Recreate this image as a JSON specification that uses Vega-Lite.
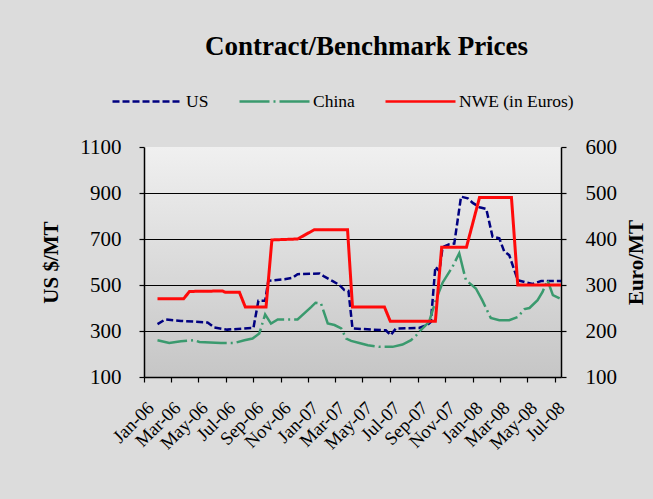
{
  "$schema": "https://vega.github.io/schema/vega-lite/v6.json",
  "width": 417,
  "height": 230,
  "autosize": {"type": "none"},
  "padding": {"left": 144, "top": 147, "right": 92, "bottom": 122},
  "background": "#DCDCDC",
  "config": {
    "view": {"stroke": null, "fill": {"gradient": "linear", "x1": 0, "y1": 0, "x2": 0, "y2": 1, "stops": [{"offset": 0, "color": "#F0F0F0"}, {"offset": 1, "color": "#C6C6C6"}]}},
    "font": "Liberation Serif",
    "axis": {"labelFont": "Liberation Serif", "titleFont": "Liberation Serif", "labelColor": "#000000", "titleColor": "#000000", "domainColor": "#000000", "tickColor": "#000000", "domainWidth": 1.5, "tickWidth": 1.2},
    "legend": {
      "orient": "none", "legendX": -33, "legendY": -82, "direction": "horizontal",
      "symbolType": "stroke", "symbolSize": 4900, "symbolStrokeWidth": 2.5,
      "labelFont": "Liberation Serif", "labelFontSize": 17.5, "labelColor": "#000000",
      "columnPadding": 25, "labelOffset": 2, "padding": 0
    }
  },
  "title": {"text": "Contract/Benchmark Prices", "font": "Liberation Serif", "fontSize": 27, "fontWeight": "bold", "color": "#000000", "anchor": "middle", "dx": 14},
  "datasets": {
    "usd": [
      {"d": "2006-01-31", "s": "US", "v": 330},
      {"d": "2006-02-17", "s": "US", "v": 350},
      {"d": "2006-03-24", "s": "US", "v": 344},
      {"d": "2006-05-22", "s": "US", "v": 337},
      {"d": "2006-06-06", "s": "US", "v": 315},
      {"d": "2006-07-05", "s": "US", "v": 306},
      {"d": "2006-08-27", "s": "US", "v": 313},
      {"d": "2006-09-01", "s": "US", "v": 313},
      {"d": "2006-09-12", "s": "US", "v": 431},
      {"d": "2006-09-27", "s": "US", "v": 431},
      {"d": "2006-10-04", "s": "US", "v": 518},
      {"d": "2006-11-09", "s": "US", "v": 525},
      {"d": "2006-11-27", "s": "US", "v": 531},
      {"d": "2006-12-08", "s": "US", "v": 547},
      {"d": "2007-01-26", "s": "US", "v": 550},
      {"d": "2007-02-06", "s": "US", "v": 536},
      {"d": "2007-02-24", "s": "US", "v": 517},
      {"d": "2007-03-11", "s": "US", "v": 500},
      {"d": "2007-03-22", "s": "US", "v": 478},
      {"d": "2007-03-31", "s": "US", "v": 475},
      {"d": "2007-04-09", "s": "US", "v": 311},
      {"d": "2007-06-22", "s": "US", "v": 303},
      {"d": "2007-07-03", "s": "US", "v": 282},
      {"d": "2007-07-14", "s": "US", "v": 311},
      {"d": "2007-09-04", "s": "US", "v": 313},
      {"d": "2007-09-23", "s": "US", "v": 328},
      {"d": "2007-09-30", "s": "US", "v": 340},
      {"d": "2007-10-10", "s": "US", "v": 579},
      {"d": "2007-10-19", "s": "US", "v": 560},
      {"d": "2007-10-26", "s": "US", "v": 664},
      {"d": "2007-11-10", "s": "US", "v": 677},
      {"d": "2007-11-21", "s": "US", "v": 680},
      {"d": "2007-12-06", "s": "US", "v": 884},
      {"d": "2007-12-21", "s": "US", "v": 877},
      {"d": "2008-01-01", "s": "US", "v": 857},
      {"d": "2008-01-16", "s": "US", "v": 838},
      {"d": "2008-01-31", "s": "US", "v": 831},
      {"d": "2008-02-14", "s": "US", "v": 710},
      {"d": "2008-02-29", "s": "US", "v": 703},
      {"d": "2008-03-11", "s": "US", "v": 645},
      {"d": "2008-03-22", "s": "US", "v": 630},
      {"d": "2008-04-10", "s": "US", "v": 521},
      {"d": "2008-04-28", "s": "US", "v": 511},
      {"d": "2008-05-13", "s": "US", "v": 505},
      {"d": "2008-06-01", "s": "US", "v": 517},
      {"d": "2008-07-15", "s": "US", "v": 517},
      {"d": "2006-01-31", "s": "China", "v": 260},
      {"d": "2006-02-26", "s": "China", "v": 248},
      {"d": "2006-03-24", "s": "China", "v": 255},
      {"d": "2006-04-22", "s": "China", "v": 260},
      {"d": "2006-05-04", "s": "China", "v": 252},
      {"d": "2006-06-21", "s": "China", "v": 248},
      {"d": "2006-07-21", "s": "China", "v": 248},
      {"d": "2006-08-12", "s": "China", "v": 260},
      {"d": "2006-08-30", "s": "China", "v": 267},
      {"d": "2006-09-14", "s": "China", "v": 289},
      {"d": "2006-09-27", "s": "China", "v": 372},
      {"d": "2006-10-10", "s": "China", "v": 332},
      {"d": "2006-10-25", "s": "China", "v": 350},
      {"d": "2006-12-08", "s": "China", "v": 350},
      {"d": "2007-01-07", "s": "China", "v": 404},
      {"d": "2007-01-17", "s": "China", "v": 423},
      {"d": "2007-01-29", "s": "China", "v": 420},
      {"d": "2007-02-13", "s": "China", "v": 333},
      {"d": "2007-02-28", "s": "China", "v": 326},
      {"d": "2007-03-15", "s": "China", "v": 311},
      {"d": "2007-03-26", "s": "China", "v": 267},
      {"d": "2007-04-06", "s": "China", "v": 257},
      {"d": "2007-04-24", "s": "China", "v": 248},
      {"d": "2007-05-13", "s": "China", "v": 238},
      {"d": "2007-06-08", "s": "China", "v": 231},
      {"d": "2007-07-07", "s": "China", "v": 231},
      {"d": "2007-07-29", "s": "China", "v": 241},
      {"d": "2007-08-17", "s": "China", "v": 260},
      {"d": "2007-08-28", "s": "China", "v": 280},
      {"d": "2007-09-06", "s": "China", "v": 300},
      {"d": "2007-09-26", "s": "China", "v": 340},
      {"d": "2007-10-11", "s": "China", "v": 434},
      {"d": "2007-10-26", "s": "China", "v": 510},
      {"d": "2007-11-17", "s": "China", "v": 579},
      {"d": "2007-12-02", "s": "China", "v": 638},
      {"d": "2007-12-12", "s": "China", "v": 558},
      {"d": "2007-12-17", "s": "China", "v": 521},
      {"d": "2008-01-08", "s": "China", "v": 485},
      {"d": "2008-01-22", "s": "China", "v": 434},
      {"d": "2008-02-10", "s": "China", "v": 357},
      {"d": "2008-02-29", "s": "China", "v": 347},
      {"d": "2008-03-22", "s": "China", "v": 347},
      {"d": "2008-04-10", "s": "China", "v": 361},
      {"d": "2008-04-25", "s": "China", "v": 395},
      {"d": "2008-05-06", "s": "China", "v": 400},
      {"d": "2008-05-24", "s": "China", "v": 434},
      {"d": "2008-06-04", "s": "China", "v": 470},
      {"d": "2008-06-15", "s": "China", "v": 521},
      {"d": "2008-06-27", "s": "China", "v": 456},
      {"d": "2008-07-12", "s": "China", "v": 442}
    ],
    "eur": [
      {"d": "2006-01-31", "s": "NWE (in Euros)", "v": 270},
      {"d": "2006-03-30", "s": "NWE (in Euros)", "v": 270},
      {"d": "2006-04-12", "s": "NWE (in Euros)", "v": 286},
      {"d": "2006-06-24", "s": "NWE (in Euros)", "v": 287},
      {"d": "2006-07-01", "s": "NWE (in Euros)", "v": 284},
      {"d": "2006-08-01", "s": "NWE (in Euros)", "v": 284},
      {"d": "2006-08-14", "s": "NWE (in Euros)", "v": 252},
      {"d": "2006-09-29", "s": "NWE (in Euros)", "v": 252},
      {"d": "2006-10-12", "s": "NWE (in Euros)", "v": 398},
      {"d": "2006-12-08", "s": "NWE (in Euros)", "v": 400},
      {"d": "2007-01-14", "s": "NWE (in Euros)", "v": 420},
      {"d": "2007-03-29", "s": "NWE (in Euros)", "v": 420},
      {"d": "2007-04-09", "s": "NWE (in Euros)", "v": 252},
      {"d": "2007-06-19", "s": "NWE (in Euros)", "v": 252},
      {"d": "2007-07-02", "s": "NWE (in Euros)", "v": 221},
      {"d": "2007-10-10", "s": "NWE (in Euros)", "v": 221},
      {"d": "2007-10-24", "s": "NWE (in Euros)", "v": 382},
      {"d": "2007-12-18", "s": "NWE (in Euros)", "v": 382},
      {"d": "2008-01-16", "s": "NWE (in Euros)", "v": 490},
      {"d": "2008-03-27", "s": "NWE (in Euros)", "v": 490},
      {"d": "2008-04-10", "s": "NWE (in Euros)", "v": 300},
      {"d": "2008-07-15", "s": "NWE (in Euros)", "v": 300}
    ]
  },
  "encoding": {
    "x": {
      "field": "d", "type": "temporal",
      "scale": {"domain": ["2006-01-01", "2008-07-15"]},
      "axis": {"title": null, "format": "%b-%y", "tickCount": {"interval": "month", "step": 2}, "labelAngle": -45, "labelFontSize": 18.5, "labelOverlap": false, "labelFlush": false, "labelBound": false, "grid": false, "tickSize": 5, "labelPadding": 16}
    },
    "color": {
      "field": "s", "type": "nominal",
      "scale": {"domain": ["US", "China", "NWE (in Euros)"], "range": ["#000080", "#3A9A6E", "#FF0A0A"]},
      "legend": {"title": null}
    },
    "strokeDash": {
      "field": "s", "type": "nominal",
      "scale": {"domain": ["US", "China", "NWE (in Euros)"], "range": [[7, 3], [30, 4, 2, 4], [1, 0]]},
      "legend": {"title": null}
    }
  },
  "layer": [
    {
      "data": {"name": "usd"},
      "mark": {"type": "line", "strokeWidth": 2.5},
      "encoding": {
        "y": {
          "field": "v", "type": "quantitative",
          "scale": {"domain": [100, 1100], "nice": false, "zero": false},
          "axis": {
            "title": "US $/MT", "titleFontSize": 21, "titleFontWeight": "bold", "titlePadding": 18, "format": "d",
            "values": [100, 300, 500, 700, 900, 1100], "labelFontSize": 21, "tickSize": 5, "labelPadding": 18,
            "grid": true, "gridColor": "#000000", "gridWidth": 1,
            "gridOpacity": {"condition": {"test": "datum.value >= 1100 || datum.value <= 100", "value": 0}, "value": 1}
          }
        }
      }
    },
    {
      "data": {"name": "eur"},
      "mark": {"type": "line", "strokeWidth": 3},
      "encoding": {
        "y": {
          "field": "v", "type": "quantitative",
          "scale": {"domain": [100, 600], "nice": false, "zero": false},
          "axis": {
            "orient": "right", "title": "Euro/MT", "titleFontSize": 21, "titleFontWeight": "bold", "titleAngle": 270, "titleBaseline": "top", "titlePadding": 9,
            "values": [100, 200, 300, 400, 500, 600], "labelFontSize": 21, "labelAlign": "left", "tickSize": 5, "labelPadding": 19, "grid": false
          }
        }
      }
    }
  ],
  "resolve": {"scale": {"y": "independent"}}
}
